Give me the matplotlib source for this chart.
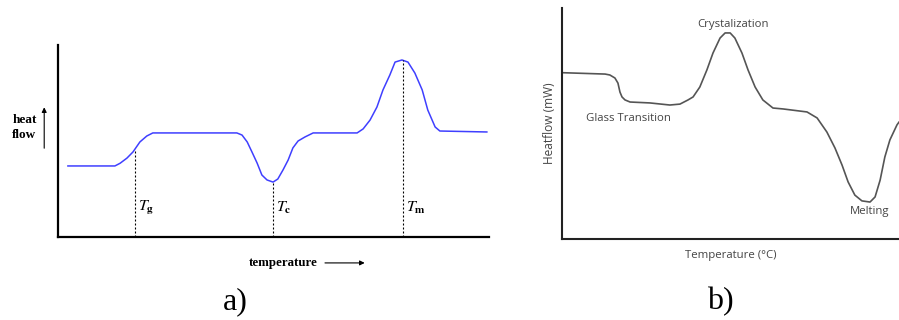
import matplotlib.pyplot as plt

plt.rcParams['mathtext.fontset'] = 'stix'

# panel a: schematic DSC curve (arbitrary units)
temp_a = [2.3, 13.2, 14.4, 16.0, 17.4, 19.0, 20.6, 22.0, 41.5, 42.7, 43.9, 45.0,
          46.2, 47.3, 48.5, 49.9, 51.0, 52.2, 53.4, 54.5, 55.7, 57.3, 59.2, 69.4,
          70.8, 72.4, 74.0, 75.4, 77.0, 78.2, 79.8, 81.2, 82.8, 84.5, 85.8, 87.5,
          88.6, 99.5]
flow_a = [37.0, 37.0, 38.4, 41.1, 44.3, 49.5, 52.6, 54.2, 54.2, 53.1, 49.5, 44.3,
          38.5, 32.3, 29.7, 28.6, 30.2, 34.9, 40.1, 46.4, 50.0, 52.1, 54.2, 54.2,
          56.3, 60.9, 67.7, 76.6, 84.4, 91.1, 92.2, 91.1, 85.4, 76.6, 66.1, 57.3,
          55.2, 54.7]
mark_names = ['g', 'c', 'm']
mark_temp = [17.9, 49.9, 80.0]
mark_flow = [45.3, 28.6, 92.2]

# panel b: measured-looking DSC trace
temp_b = [0, 12.8, 14.2, 15.7, 16.6, 17.2, 17.8, 18.7, 20.2, 26.1, 32.0, 35.0,
          37.4, 38.9, 40.9, 43.0, 44.8, 46.9, 48.4, 49.9, 51.3, 53.4, 55.2, 57.3,
          59.6, 62.6, 65.6, 72.7, 75.7, 78.6, 81.0, 83.1, 84.9, 86.9, 89.0, 91.4,
          92.9, 94.4, 95.8, 97.3, 99.4, 100]
flow_b = [72.0, 71.4, 71.0, 69.7, 67.5, 63.6, 61.5, 60.2, 59.3, 58.9, 58.0, 58.4,
          60.2, 61.5, 65.8, 73.2, 80.5, 87.0, 89.2, 89.2, 87.0, 80.5, 73.2, 65.8,
          60.2, 56.7, 56.3, 55.0, 52.4, 46.3, 39.4, 32.0, 24.7, 19.0, 16.5, 16.0,
          18.2, 25.5, 35.5, 42.9, 49.4, 50.6]

W, H = 899, 320
fig = plt.figure(figsize=(W / 100, H / 100), dpi=100)

# ---- a) ----
ax = fig.add_axes([58 / W, 1 - 237 / H, 431 / W, 192 / H])
ax.plot(temp_a, flow_a, color='#3f3fff', lw=1.1, solid_joinstyle='round')
serif = ['Liberation Serif', 'DejaVu Serif']
for name, t, f in zip(mark_names, mark_temp, mark_flow):
    ax.plot([t, t], [0, f], color='black', lw=0.8, ls=(0, (1.8, 1.8)))
    ax.text(t + 0.7, 15, r'$T_{\mathbf{%s}}$' % name, fontsize=11.5, va='center', ha='left')
ax.set_xlim(0, 100)
ax.set_ylim(0, 100)
for s in ['top', 'right']:
    ax.spines[s].set_visible(False)
for s in ['left', 'bottom']:
    ax.spines[s].set_linewidth(1.6)
ax.set_xticks([])
ax.set_yticks([])
ax.text(-10.6, 57, 'heat\nflow', family=serif, fontweight='bold', fontsize=9.5,
        ha='left', va='center', linespacing=1.25)
ax.annotate('', xy=(-3.2, 69), xytext=(-3.2, 44.8), annotation_clip=False,
            arrowprops=dict(arrowstyle='-|>', color='black', lw=0.8, mutation_scale=7))
ax.text(44.3, -13.5, 'temperature', family=serif, fontweight='bold', fontsize=9.3,
        ha='left', va='center')
ax.annotate('', xy=(71.8, -13.5), xytext=(61.3, -13.5), annotation_clip=False,
            arrowprops=dict(arrowstyle='-|>', color='black', lw=0.8, mutation_scale=7))

# ---- b) ----
bx = fig.add_axes([562 / W, 1 - 239 / H, 337 / W, 231 / H])
bx.plot(temp_b, flow_b, color='#555555', lw=1.2, solid_joinstyle='round')
bx.set_xlim(0, 100)
bx.set_ylim(0, 100)
for s in ['top', 'right']:
    bx.spines[s].set_visible(False)
for s in ['left', 'bottom']:
    bx.spines[s].set_linewidth(1.5)
    bx.spines[s].set_color('#222222')
bx.set_xticks([])
bx.set_yticks([])
sans = 'Open Sans'
gray = '#444444'
fs = 8.2
bx.text(50.7, 93, 'Crystalization', family=sans, fontsize=fs, color=gray, ha='center', va='center')
bx.text(7.1, 52, 'Glass Transition', family=sans, fontsize=fs, color=gray, ha='left', va='center')
bx.text(91.4, 11.7, 'Melting', family=sans, fontsize=fs, color=gray, ha='center', va='center')
bx.set_xlabel('Temperature (°C)', family=sans, fontsize=fs, color=gray, labelpad=8)
bx.set_ylabel('Heatflow (mW)', family=sans, fontsize=fs + 0.4, color=gray, labelpad=4)

fig.text(235 / W, 1 - 302 / H, 'a)', family=serif, fontsize=23, ha='center', va='center')
fig.text(720 / W, 1 - 302 / H, 'b)', family=serif, fontsize=23, ha='center', va='center')

fig.savefig('out.png', dpi=100)
